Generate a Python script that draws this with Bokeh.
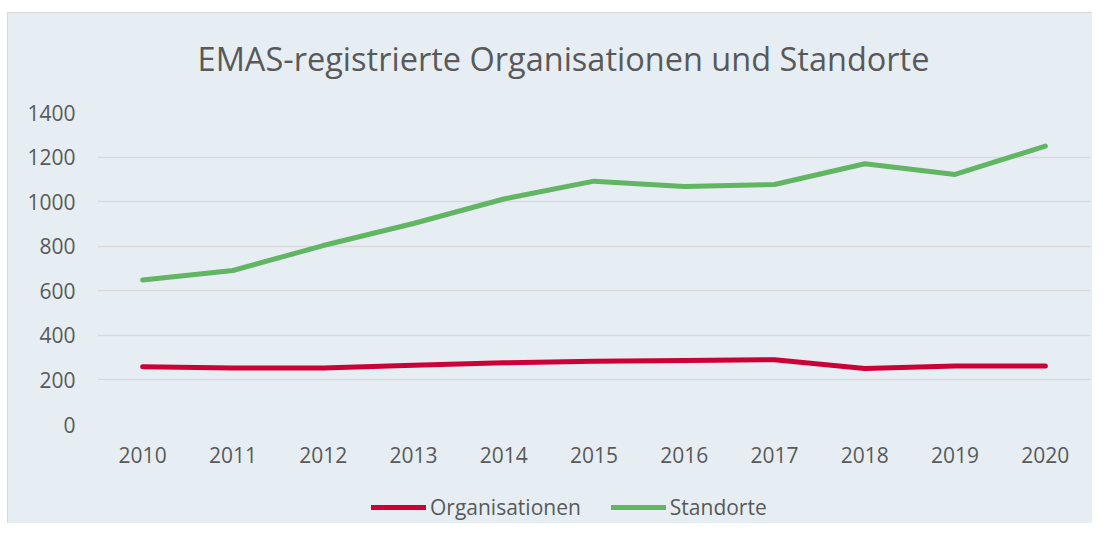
from bokeh.plotting import figure
from bokeh.models import Legend, LegendItem, FixedTicker, Label, Spacer
from bokeh.layouts import column, row
from bokeh.embed import file_html
from bokeh.resources import INLINE

years = ["2010", "2011", "2012", "2013", "2014", "2015", "2016", "2017", "2018", "2019", "2020"]
organisationen = [259, 253, 254, 266, 277, 284, 287, 291, 251, 262, 262]
standorte = [648, 691, 803, 902, 1012, 1092, 1068, 1077, 1170, 1122, 1249]
y_ticks = [0, 200, 400, 600, 800, 1000, 1200, 1400]
title_text = "EMAS-registrierte Organisationen und Standorte"
series_names = ["Organisationen", "Standorte"]

BG = "#e6eef4"
TXT = "#595959"
FONT = "Open Sans"
RED = "#cc0036"
GREEN = "#62b563"
W = 1084
LEFT, RIGHT = 89, 2
TITLE_H, MAIN_H, LEG_H = 84, 387, 39


def style(f):
    f.background_fill_alpha = 0
    f.border_fill_alpha = 0
    f.outline_line_color = None


def blank(height):
    f = figure(width=W, height=height, output_backend="svg", toolbar_location=None,
               x_range=(LEFT, W - RIGHT), y_range=(0, height), x_axis_type=None, y_axis_type=None,
               min_border_left=LEFT, min_border_right=RIGHT, min_border_top=0, min_border_bottom=0)
    style(f)
    return f


# title
tf = blank(TITLE_H)
tf.add_layout(Label(x=555, y=39, text=title_text, text_font=FONT, text_font_size="32.5px",
                    text_color=TXT, text_align="center", text_baseline="alphabetic"))

# main chart
xs = list(range(len(years)))
p = figure(width=W, height=MAIN_H, output_backend="svg", toolbar_location=None,
           x_range=(-0.5, len(years) - 0.5), y_range=(0, 1400),
           min_border_left=LEFT, min_border_right=RIGHT, min_border_top=15, min_border_bottom=60)
style(p)

r1 = p.line(xs, organisationen, line_color=RED, line_width=5, line_cap="round", line_join="round")
r2 = p.line(xs, standorte, line_color=GREEN, line_width=5, line_cap="round", line_join="round")

p.xgrid.visible = False
p.ygrid.grid_line_color = "#d9d9d9"
p.ygrid.grid_line_width = 1.5

p.xaxis.ticker = FixedTicker(ticks=xs)
p.xaxis.major_label_overrides = {i: y for i, y in enumerate(years)}
p.yaxis.ticker = FixedTicker(ticks=y_ticks)
for ax in (p.xaxis, p.yaxis):
    ax.axis_line_color = None
    ax.major_tick_line_color = None
    ax.minor_tick_line_color = None
    ax.major_label_text_font = FONT
    ax.major_label_text_font_size = "21px"
    ax.major_label_text_color = TXT
p.yaxis.major_label_standoff = 16
p.xaxis.major_label_standoff = 16

# legend (swatch renderers reuse the series data, which lies outside this strip's view)
lf = blank(LEG_H)
l1 = lf.line(xs, organisationen, line_color=RED, line_width=5, line_cap="round")
l2 = lf.line(xs, standorte, line_color=GREEN, line_width=5, line_cap="round")
legend = Legend(items=[LegendItem(label=series_names[0], renderers=[l1]),
                       LegendItem(label=series_names[1], renderers=[l2])],
                orientation="horizontal", location=(274, 2),
                background_fill_alpha=0, border_line_color=None,
                label_text_font=FONT, label_text_font_size="21px", label_text_color=TXT,
                glyph_width=55, glyph_height=20, label_height=20,
                label_standoff=4, spacing=30, margin=0, padding=0)
lf.add_layout(legend)

chart = column(tf, p, lf, spacing=0,
               styles={"background-color": BG, "border-left": "1px solid #d9d9d9",
                       "border-top": "1px solid #d9d9d9"})
layout = row(Spacer(width=7), column(Spacer(height=12), chart))
open("out.html", "w").write(file_html(layout, INLINE))
